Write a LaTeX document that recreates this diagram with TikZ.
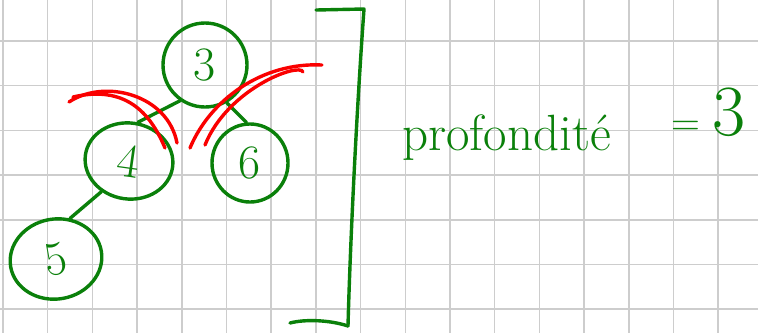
\documentclass[tikz,border=0pt]{standalone}
\usetikzlibrary{shapes.geometric}
\definecolor{pen}{RGB}{10,128,10}
\definecolor{redpen}{RGB}{250,0,0}
\definecolor{gridc}{RGB}{205,205,205}
\tikzset{
  gridline/.style={draw=gridc,line width=1.5pt},
  treenode/.style={ellipse,draw=pen,line width=3.4pt,inner sep=0pt,text=pen,font=\fontsize{48}{48}\selectfont},
  edge/.style={draw=pen,line width=3.4pt,line cap=round,line join=round},
  redstroke/.style={draw=redpen,line width=3.4pt,line cap=round},
  hand/.style={text=pen,inner sep=0pt}
}
\begin{document}
\begin{tikzpicture}[x=1pt,y=-1pt]
\useasboundingbox (0,0) rectangle (758,333);
\fill[white] (0,0) rectangle (758,333);
\foreach \i in {0,...,17} \draw[gridline] ({3+44.7*\i},0) -- ({3+44.7*\i},333);
\foreach \j in {1,...,7} \draw[gridline] (0,{-3.7+44.7*\j}) -- (758,{-3.7+44.7*\j});
% nodes
\node[treenode,minimum width=84pt,minimum height=84pt] (n3) at (205,65) {3};
\node[treenode,minimum width=88pt,minimum height=76pt,rotate=-8] (n4) at (129,161) {4};
\node[treenode,minimum width=76pt,minimum height=78pt] (n6) at (250,163) {6};
\node[treenode,minimum width=92pt,minimum height=80pt,rotate=10] (n5) at (56,259) {5};
% edges
\draw[edge] (n3.235) -- (n4.85);
\draw[edge] (n3.300) -- (n6.95);
\draw[edge] (n4.236) -- (n5.61);
% red strokes
\draw[redstroke] (69,102) .. controls (105,78) and (168,95) .. (177,143);
\draw[redstroke] (73,97) .. controls (125,85) and (150,112) .. (165,148);
\draw[redstroke] (322,65) .. controls (262,62) and (210,100) .. (190,148);
\draw[redstroke] (303,72) .. controls (300,62) and (228,88) .. (205,145);
% bracket
\coordinate (bt1) at (316,10);
\coordinate (bt2) at (364,9);
\coordinate (bb2) at (348,326);
\coordinate (bb1) at (290,323);
\draw[edge] (bt1) -- (bt2) .. controls (356,120) and (350,250) .. (bb2);
\draw[edge] (bb1) .. controls (305,319) and (330,320) .. (bb2);
% text
\node[hand,anchor=base west,font=\fontsize{51}{51}\selectfont] (lbl) at (402,150) {profondité};
\node[hand,anchor=base west,font=\fontsize{72}{72}\selectfont] (val) at (671,135) {{\fontsize{40}{40}\selectfont =}\,3};
\end{tikzpicture}
\end{document}
